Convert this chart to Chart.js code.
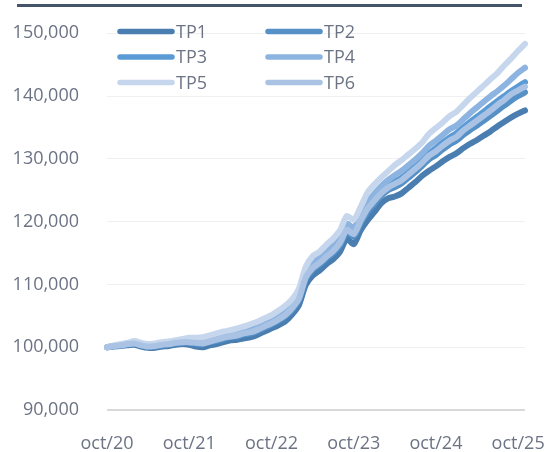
<!DOCTYPE html>
<html>
<head>
<meta charset="utf-8">
<script src="https://cdn.jsdelivr.net/npm/chart.js@4/dist/chart.umd.min.js"></script>
<style>
  html, body { margin: 0; padding: 0; background: #fff; }
  #wrap { position: relative; width: 547px; height: 452px; }
</style>
</head>
<body>
<div id="wrap"><canvas id="chart"></canvas></div>
<script>
// monthly, oct/20 .. nov/25 (values in thousands)
const monthNames = ['ene','feb','mar','abr','may','jun','jul','ago','sep','oct','nov','dic'];
const startYear = 2020, startMonth = 9, nMonths = 62;
const categories = [];
for (let i = 0; i < nMonths; i++) {
  const m = (startMonth + i) % 12;
  const y = startYear + Math.floor((startMonth + i) / 12);
  categories.push(monthNames[m] + '/' + String(y).slice(2));
}

const seriesNames = ['TP1', 'TP2', 'TP3', 'TP4', 'TP5', 'TP6'];
const seriesColors = ['#4a7eb0', '#5590c6', '#5b9bd5', '#8db4e0', '#c6d7ed', '#aac3e4'];

const tp1 = [100.0,100.1,100.2,100.3,100.4,100.1,99.9,99.9,100.1,100.2,100.4,100.5,
  100.4,100.1,100.0,100.3,100.5,100.8,101.1,101.2,101.4,101.6,102.0,102.5,
  103.0,103.5,104.1,105.2,106.7,109.9,111.4,112.2,113.2,114.0,115.2,117.3,
  116.4,118.6,120.2,121.5,122.9,123.7,124.0,124.5,125.4,126.3,127.3,128.1,
  128.8,129.6,130.3,130.9,131.7,132.4,133.0,133.7,134.4,135.2,135.9,136.6,
  137.2,137.7];
const tp2 = [100.0,100.2,100.3,100.4,100.6,100.3,100.1,100.1,100.3,100.4,100.6,100.7,
  100.7,100.5,100.5,100.8,101.0,101.3,101.6,101.7,102.0,102.2,102.6,103.1,
  103.6,104.2,104.9,105.9,107.5,110.8,112.3,113.1,114.1,115.0,116.2,118.4,
  117.6,119.7,121.5,122.8,124.1,125.0,125.5,126.1,127.0,127.9,128.9,129.9,
  130.6,131.5,132.3,132.9,133.8,134.6,135.3,136.1,136.9,137.7,138.5,139.3,
  140.0,140.6];
const tp3 = [100.0,100.2,100.3,100.5,100.7,100.4,100.2,100.2,100.4,100.5,100.7,100.9,
  100.9,100.8,100.8,101.1,101.3,101.6,101.9,102.1,102.3,102.6,103.0,103.5,
  104.0,104.6,105.3,106.4,107.9,111.3,112.9,113.6,114.7,115.6,116.8,119.0,
  118.3,120.4,122.3,123.6,124.9,125.8,126.4,127.0,127.9,128.8,129.8,130.9,
  131.7,132.6,133.4,134.1,135.0,135.9,136.7,137.5,138.4,139.2,140.0,140.8,
  141.5,142.2];
const tp4 = [100.0,100.2,100.4,100.6,100.8,100.5,100.3,100.4,100.6,100.7,100.9,101.0,
  101.1,101.0,101.1,101.4,101.6,101.9,102.2,102.4,102.7,103.0,103.4,103.9,
  104.4,105.0,105.8,106.8,108.4,111.8,113.5,114.2,115.3,116.2,117.5,119.7,
  119.0,121.1,123.1,124.4,125.6,126.6,127.4,128.1,129.0,129.9,130.9,132.1,
  132.9,133.8,134.7,135.3,136.3,137.3,138.2,139.1,140.0,140.8,141.7,142.7,
  143.7,144.5];
const tp5 = [100.0,100.3,100.5,100.7,101.0,100.7,100.5,100.6,100.8,100.9,101.1,101.3,
  101.5,101.5,101.6,101.9,102.2,102.5,102.7,103.0,103.3,103.7,104.1,104.6,
  105.1,105.8,106.6,107.6,109.3,112.8,114.5,115.2,116.3,117.3,118.6,120.9,
  120.3,122.3,124.6,125.9,127.0,128.0,129.0,129.8,130.7,131.6,132.6,134.0,
  134.9,135.8,136.8,137.5,138.6,139.7,140.7,141.7,142.7,143.7,144.9,146.0,
  147.2,148.3];
const tp6 = [100.0,100.2,100.3,100.5,100.6,100.3,100.1,100.2,100.4,100.5,100.7,100.8,
  100.8,100.7,100.6,100.9,101.2,101.5,101.7,101.9,102.2,102.4,102.8,103.3,
  103.8,104.4,105.1,106.2,107.7,111.1,112.6,113.4,114.4,115.3,116.6,118.7,
  118.0,120.1,122.0,123.3,124.5,125.4,126.0,126.6,127.5,128.4,129.4,130.5,
  131.2,132.1,132.9,133.5,134.5,135.3,136.1,136.9,137.7,138.6,139.4,140.3,
  140.9,141.5];
const seriesValues = [tp1, tp2, tp3, tp4, tp5, tp6];

const yTicks = [90000, 100000, 110000, 120000, 130000, 140000, 150000];

const textColor = '#6b7384';
const fontFamily = '"Open Sans", "Noto Sans", sans-serif';

// top rule + legend drawn inside the plot, like the source
const decorations = {
  id: 'decorations',
  afterDraw(chart) {
    const { ctx } = chart;
    ctx.save();
    ctx.strokeStyle = '#44546a';
    ctx.lineWidth = 3;
    ctx.beginPath();
    ctx.moveTo(17, 5.5);
    ctx.lineTo(522, 5.5);
    ctx.stroke();

    ctx.font = '18px ' + fontFamily;
    ctx.textBaseline = 'middle';
    ctx.fillStyle = textColor;
    ctx.lineCap = 'round';
    ctx.lineWidth = 5.5;
    const colX = [120, 268];
    const rowY = [31.5, 57, 82.5];
    seriesNames.forEach((name, i) => {
      const x = colX[i % 2], y = rowY[Math.floor(i / 2)];
      ctx.strokeStyle = seriesColors[i];
      ctx.beginPath();
      ctx.moveTo(x, y);
      ctx.lineTo(x + 52, y);
      ctx.stroke();
      ctx.fillText(name, x + 56, y + 1);
    });
    ctx.restore();
  }
};

new Chart(document.getElementById('chart'), {
  type: 'line',
  data: {
    labels: categories,
    datasets: seriesNames.map((name, i) => ({
      label: name,
      data: seriesValues[i].map(v => v * 1000),
      borderColor: seriesColors[i],
      backgroundColor: seriesColors[i],
      borderWidth: 6,
      borderCapStyle: 'round',
      borderJoinStyle: 'round',
      pointRadius: 0,
      tension: 0.25,
      order: seriesNames.length - 1 - i,
    })),
  },
  options: {
    responsive: true,
    maintainAspectRatio: false,
    animation: false,
    layout: { padding: { top: 0, right: 22, bottom: 0, left: 0 } },
    scales: {
      x: {
        grid: { display: false },
        border: { display: false },
        ticks: {
          autoSkip: false,
          maxRotation: 0,
          minRotation: 0,
          padding: 15,
          color: textColor,
          font: { size: 18, family: fontFamily },
          callback: (v, i) => (i % 12 === 0 ? categories[i] : ''),
        },
        afterFit: (scale) => { scale.height = 42; },
      },
      y: {
        min: 90000,
        max: 150000,
        afterBuildTicks: (scale) => { scale.ticks = yTicks.map(v => ({ value: v })); },
        border: { display: false },
        grid: {
          drawTicks: false,
          color: (c) => (c.tick && c.tick.value === 90000 ? '#d9d9d9' : '#f0f0f0'),
          lineWidth: (c) => (c.tick && c.tick.value === 90000 ? 2 : 1),
        },
        ticks: {
          padding: 28,
          color: textColor,
          // small lineHeight keeps the top label from pushing the plot down
          font: { size: 18, family: fontFamily, lineHeight: 0.58 },
          callback: (v) => v.toLocaleString('en-US'),
        },
        afterFit: (scale) => { scale.width = 107; },
      },
    },
    plugins: {
      legend: { display: false },
      tooltip: { enabled: false },
    },
  },
  plugins: [decorations],
});
</script>
</body>
</html>
